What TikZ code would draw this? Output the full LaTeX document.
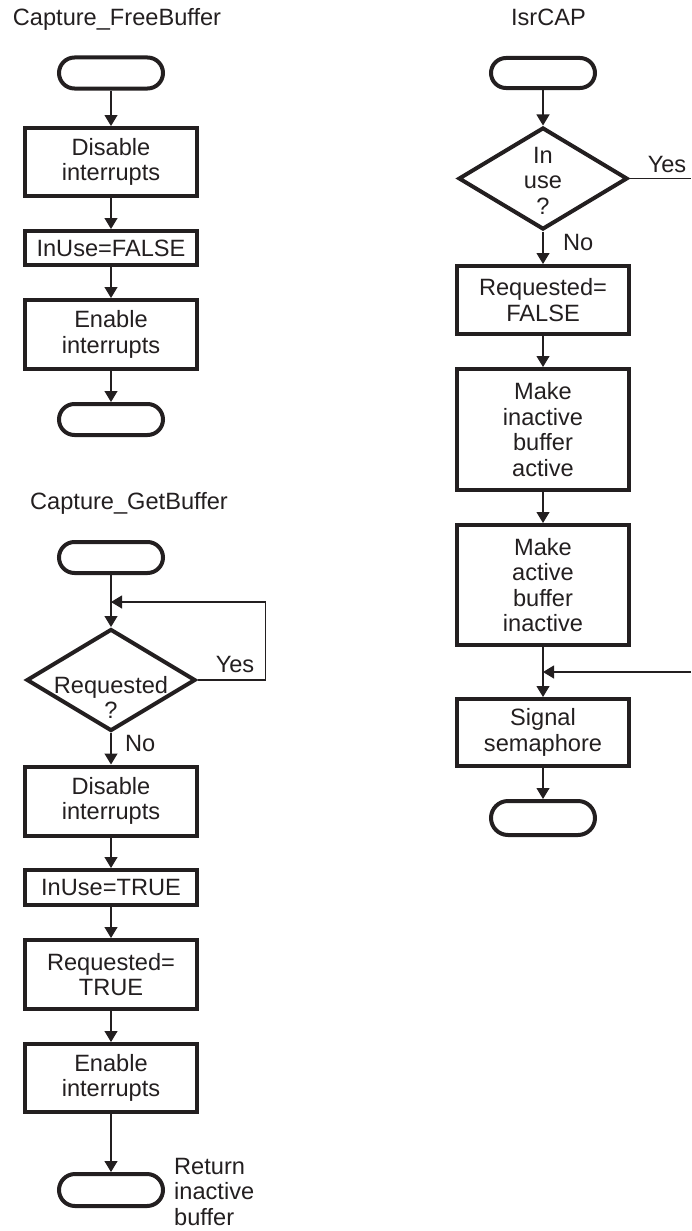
\documentclass[tikz,border=0pt]{standalone}
\usepackage{fontspec}
\setmainfont{Liberation Sans}
\usetikzlibrary{shapes.geometric,shapes.misc,arrows.meta}
\definecolor{ink}{HTML}{231F20}
\begin{document}
\begin{tikzpicture}[x=1pt,y=-1pt,
  every node/.style={font=\fontsize{23.6}{25.5}\selectfont, text=ink, inner sep=0pt},
  stepbox/.style={draw=ink, line width=4pt, rectangle, align=center, minimum width=172pt},
  terminal/.style={draw=ink, line width=4pt, rounded rectangle, minimum width=104pt, minimum height=31pt},
  decision/.style={draw=ink, line width=4pt, diamond, minimum width=169pt, minimum height=102pt},
  flow/.style={draw=ink, line width=1.2pt, -{Triangle[length=11pt,width=13pt]}},
  link/.style={draw=ink, line width=1.2pt}]
\useasboundingbox (0,0) rectangle (691,1231);

% ---- Capture_FreeBuffer ----
\node[anchor=base] (t1) at (117,26) {Capture\_FreeBuffer};
\node[terminal] (s1) at (111,73) {};
\node[stepbox, minimum height=68pt] (b1) at (111,162) {Disable\\interrupts};
\node[stepbox, minimum height=34pt] (b2) at (111,248) {InUse=FALSE};
\node[stepbox, minimum height=69pt] (b3) at (111,334.5) {Enable\\interrupts};
\node[terminal] (e1) at (111,419.5) {};
\draw[flow] (s1) -- (b1);
\draw[flow] (b1) -- (b2);
\draw[flow] (b2) -- (b3);
\draw[flow] (b3) -- (e1);

% ---- Capture_GetBuffer ----
\node[anchor=base] (t2) at (129,509) {Capture\_GetBuffer};
\node[terminal] (s2) at (111,557.5) {};
\coordinate (j1) at (111,602);
\node[decision] (d2) at (111,680) {};
\node[anchor=north, align=center] (d2t) at (111,676) {Requested\\?};
\node[anchor=base] (y2) at (235,672) {Yes};
\node[anchor=base west] (n2) at (125,751) {No};
\node[stepbox, minimum height=69pt] (b4) at (111,801) {Disable\\interrupts};
\node[stepbox, minimum height=35pt] (b5) at (111,887.5) {InUse=TRUE};
\node[stepbox, minimum height=69pt] (b6) at (111,974.5) {Requested=\\TRUE};
\node[stepbox, minimum height=68pt] (b7) at (111,1078) {Enable\\interrupts};
\node[terminal, minimum height=32pt] (e2) at (111,1190) {};
\node[anchor=north west, align=left] (ret) at (174,1158) {Return\\inactive\\buffer};
\draw[flow] (s2) -- (d2);
\draw[flow] (d2.east) -- ++(68,0) |- (j1);
\draw[flow] (d2) -- (b4);
\draw[flow] (b4) -- (b5);
\draw[flow] (b5) -- (b6);
\draw[flow] (b6) -- (b7);
\draw[flow] (b7) -- (e2);

% ---- IsrCAP ----
\node[anchor=base] (t3) at (548.5,26) {IsrCAP};
\node[terminal, minimum height=30pt] (s3) at (543,73) {};
\node[decision] (d1) at (543,178.5) {};
\node[anchor=north, align=center] (d1t) at (543,147) {In\\use\\?};
\node[anchor=base] (y1) at (667,172) {Yes};
\node[anchor=base west] (n1) at (563,250) {No};
\coordinate (k1) at (691,178.5);
\node[stepbox, minimum height=68pt] (b8) at (543,300) {Requested=\\FALSE};
\node[stepbox, minimum height=121pt] (b9) at (543,429.5) {Make\\inactive\\buffer\\active};
\node[stepbox, minimum height=120pt] (b10) at (543,585) {Make\\active\\buffer\\inactive};
\coordinate (j2) at (543,672);
\coordinate (k2) at (691,672);
\node[stepbox, minimum height=67pt] (b11) at (543,732.5) {Signal\\semaphore};
\node[terminal, minimum height=34pt] (e3) at (543,818) {};
\draw[flow] (s3) -- (d1);
\draw[link] (d1.east) -- (k1);
\draw[flow] (d1) -- (b8);
\draw[flow] (b8) -- (b9);
\draw[flow] (b9) -- (b10);
\draw[flow] (b10) -- (b11);
\draw[flow] (k2) -- (j2);
\draw[flow] (b11) -- (e3);
\end{tikzpicture}
\end{document}
